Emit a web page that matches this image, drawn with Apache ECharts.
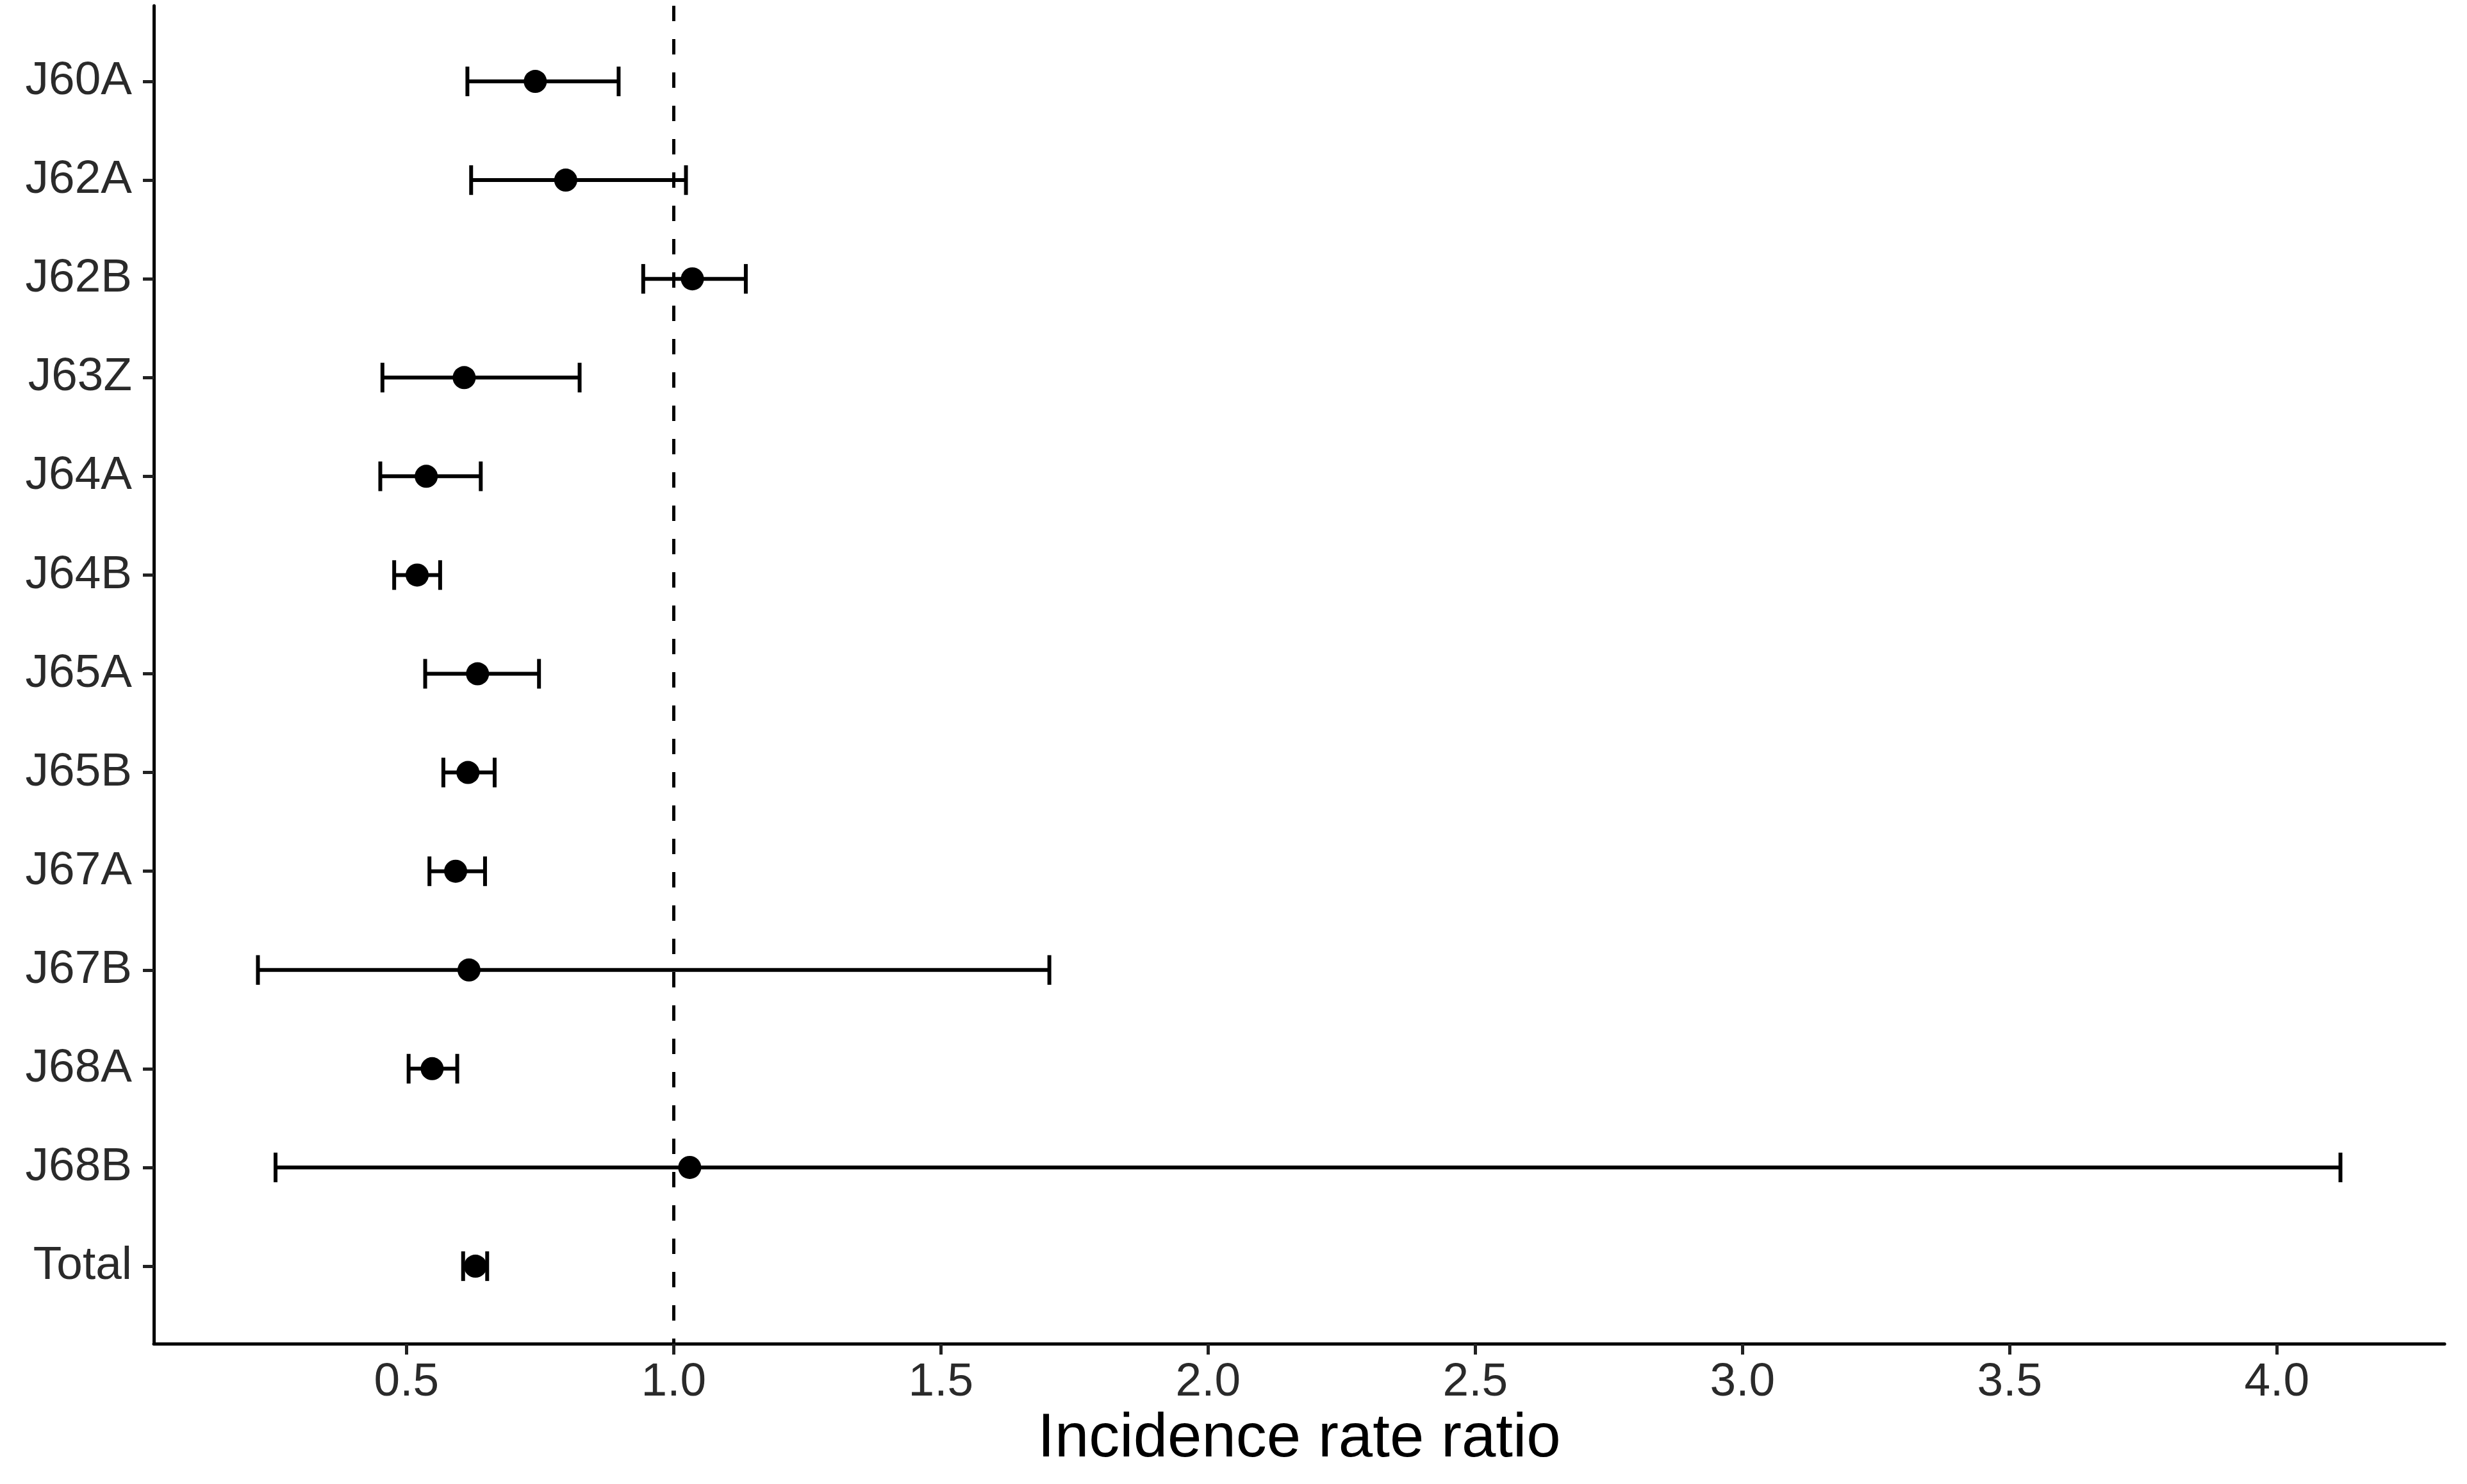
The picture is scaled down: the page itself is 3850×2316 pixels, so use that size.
<!DOCTYPE html>
<html>
<head>
<meta charset="utf-8">
<script src="https://cdn.jsdelivr.net/npm/echarts@6/dist/echarts.min.js"></script>
<style>
  html, body { margin: 0; padding: 0; background: #fff; }
  #main { width: 3850px; height: 2316px; }
</style>
</head>
<body>
<div id="main"></div>
<script>
var categories = ['J60A', 'J62A', 'J62B', 'J63Z', 'J64A', 'J64B', 'J65A',
                  'J65B', 'J67A', 'J67B', 'J68A', 'J68B', 'Total'];
var irr   = [0.741, 0.798, 1.035, 0.608, 0.537, 0.520, 0.633, 0.615, 0.592, 0.617, 0.548, 1.030, 0.629];
var lower = [0.614, 0.621, 0.943, 0.455, 0.451, 0.477, 0.535, 0.569, 0.543, 0.222, 0.504, 0.255, 0.606];
var upper = [0.897, 1.023, 1.135, 0.824, 0.639, 0.563, 0.748, 0.665, 0.647, 1.703, 0.595, 4.119, 0.651];
var xTicks = [0.5, 1.0, 1.5, 2.0, 2.5, 3.0, 3.5, 4.0];

// ggplot-like 5% expansion of the x range
var lo = Math.min.apply(null, lower);
var hi = Math.max.apply(null, upper);
var pad = (hi - lo) * 0.05;

var rowIdx = categories.map(function (c, i) { return i; });
var points = irr.map(function (v, i) { return [v, i]; });
var bars = lower.map(function (v, i) { return [v, upper[i], i]; });

var font = 'Liberation Sans';

var myChart = echarts.init(document.getElementById('main'));
option = {
    animation: false,
    backgroundColor: '#fff',
    grid: { left: 240, right: 35, top: 9, bottom: 219 },
    xAxis: {
        type: 'value',
        min: lo - pad,
        max: hi + pad,
        name: 'Incidence rate ratio',
        nameLocation: 'middle',
        nameGap: 98,
        nameTextStyle: { fontFamily: font, fontSize: 96, color: '#000' },
        axisLine: { show: true, onZero: false, lineStyle: { color: '#000', width: 5 } },
        axisTick: { show: true, length: 17, customValues: xTicks, lineStyle: { color: '#222', width: 5 } },
        axisLabel: {
            customValues: xTicks,
            margin: 24,
            fontFamily: font,
            fontSize: 73,
            color: '#2a2a2a',
            formatter: function (v) { return v.toFixed(1); }
        },
        splitLine: { show: false }
    },
    yAxis: {
        type: 'value',
        inverse: true,
        min: -0.766,
        max: 12.785,
        axisLine: { show: true, onZero: false, lineStyle: { color: '#000', width: 5 } },
        axisTick: { show: true, length: 17, customValues: rowIdx, lineStyle: { color: '#222', width: 5 } },
        axisLabel: {
            customValues: rowIdx,
            margin: 34,
            fontFamily: font,
            fontSize: 73,
            color: '#2a2a2a',
            formatter: function (v) { return categories[Math.round(v)]; }
        },
        splitLine: { show: false }
    },
    series: [
        {
            name: 'CI',
            type: 'custom',
            data: bars,
            encode: { x: [0, 1], y: 2 },
            renderItem: function (params, api) {
                var a = api.coord([api.value(0), api.value(2)]);
                var b = api.coord([api.value(1), api.value(2)]);
                var h = api.size([0, 1])[1] * 0.15;
                var st = { stroke: '#000', lineWidth: 6 };
                return {
                    type: 'group',
                    children: [
                        { type: 'line', shape: { x1: a[0], y1: a[1], x2: b[0], y2: b[1] }, style: st },
                        { type: 'line', shape: { x1: a[0], y1: a[1] - h, x2: a[0], y2: a[1] + h }, style: st },
                        { type: 'line', shape: { x1: b[0], y1: b[1] - h, x2: b[0], y2: b[1] + h }, style: st }
                    ]
                };
            }
        },
        {
            name: 'IRR',
            type: 'scatter',
            data: points,
            symbol: 'circle',
            symbolSize: 36,
            itemStyle: { color: '#000', opacity: 1 },
            markLine: {
                silent: true,
                symbol: 'none',
                label: { show: false },
                lineStyle: { color: '#000', width: 5, type: [24, 28], opacity: 1 },
                data: [{ xAxis: 1 }]
            }
        }
    ]
};

myChart.setOption(option);
</script>
</body>
</html>
